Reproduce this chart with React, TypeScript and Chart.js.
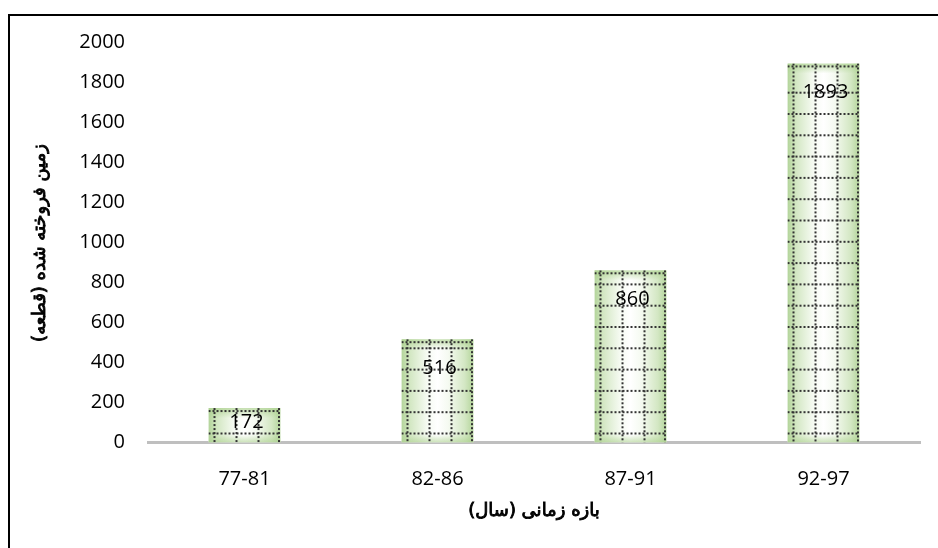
import React, { useEffect, useRef } from "react";
import { Chart, registerables } from "chart.js";

Chart.register(...registerables);

const categories: string[] = ["77-81", "82-86", "87-91", "92-97"];
const soldLand: number[] = [172, 516, 860, 1893];
const yTitle = "زمین فروخته شده (قطعه)";
const xTitle = "بازه زمانی (سال)";
const yMin = 0;
const yMax = 2000;
const yStep = 200;

const NUM_FONT = "'Open Sans', sans-serif";
const AR_FONT = "'DejaVu Sans', sans-serif";

const barDecor = {
  id: "barDecor",
  afterDatasetsDraw(chart: any) {
    const ctx = chart.ctx as CanvasRenderingContext2D;
    const meta = chart.getDatasetMeta(0);
    meta.data.forEach((el: any, i: number) => {
      const p = el.getProps(["x", "y", "base", "width"], true);
      const left = p.x - p.width / 2;
      const right = p.x + p.width / 2;
      const top = p.y;
      const base = p.base;
      ctx.save();
      ctx.beginPath();
      ctx.rect(left, top, right - left, base - top);
      ctx.clip();
      const g = ctx.createLinearGradient(left, 0, right, 0);
      g.addColorStop(0, "#b3d49a");
      g.addColorStop(0.12, "#d3e7c3");
      g.addColorStop(0.35, "#f5faf1");
      g.addColorStop(0.5, "#ffffff");
      g.addColorStop(0.65, "#f5faf1");
      g.addColorStop(0.88, "#d3e7c3");
      g.addColorStop(1, "#b3d49a");
      ctx.fillStyle = g;
      ctx.fillRect(left, top, right - left, base - top);
      const gt = ctx.createLinearGradient(0, top, 0, top + 10);
      gt.addColorStop(0, "rgba(170,208,140,0.7)");
      gt.addColorStop(1, "rgba(170,208,140,0)");
      ctx.fillStyle = gt;
      ctx.fillRect(left, top, right - left, 10);
      const gb = ctx.createLinearGradient(0, base, 0, base - 8);
      gb.addColorStop(0, "rgba(170,208,140,0.6)");
      gb.addColorStop(1, "rgba(170,208,140,0)");
      ctx.fillStyle = gb;
      ctx.fillRect(left, base - 8, right - left, 8);

      ctx.strokeStyle = "#333333";
      ctx.lineWidth = 2;
      ctx.setLineDash([2, 2]);
      const xs = [left + 6, left + 28, left + 50, right - 1.5];
      xs.forEach((x) => {
        ctx.beginPath();
        ctx.moveTo(x, top);
        ctx.lineTo(x, base);
        ctx.stroke();
      });
      const ys: number[] = [top + 3];
      for (let yy = base - 9; yy > top + 8; yy -= 21.3) ys.push(yy);
      ys.forEach((y) => {
        ctx.beginPath();
        ctx.moveTo(left, y);
        ctx.lineTo(right, y);
        ctx.stroke();
      });
      ctx.restore();

      ctx.save();
      ctx.fillStyle = "#000";
      ctx.font = `20px ${NUM_FONT}`;
      ctx.textAlign = "center";
      ctx.textBaseline = "middle";
      const cy = top + Math.min(29, (base - top) * 0.4);
      ctx.fillText(String(soldLand[i]), p.x + 2, cy);
      ctx.restore();
    });
  },
};

function boldText(ctx: CanvasRenderingContext2D, text: string, x: number, y: number) {
  ctx.fillText(text, x, y);
  ctx.strokeText(text, x, y);
}

const titles = {
  id: "titles",
  afterDraw(chart: any) {
    const ctx = chart.ctx as CanvasRenderingContext2D;
    const area = chart.chartArea;
    ctx.save();
    ctx.fillStyle = "#000";
    ctx.strokeStyle = "#000";
    ctx.lineWidth = 0.9;
    ctx.font = `18px ${AR_FONT}`;
    ctx.textAlign = "center";
    ctx.textBaseline = "middle";
    (ctx as any).direction = "rtl";
    boldText(ctx, xTitle, (area.left + area.right) / 2, 511);
    ctx.translate(40, 243);
    ctx.rotate(-Math.PI / 2);
    boldText(ctx, yTitle, 0, 0);
    ctx.restore();
  },
};

export default function App() {
  const ref = useRef<HTMLCanvasElement | null>(null);
  useEffect(() => {
    if (!ref.current) return;
    const chart = new Chart(ref.current, {
      type: "bar",
      data: {
        labels: categories,
        datasets: [
          {
            data: soldLand,
            backgroundColor: "#e2efda",
            borderWidth: 0,
            barPercentage: 0.373,
            categoryPercentage: 1,
          },
        ],
      },
      options: {
        animation: false,
        responsive: false,
        maintainAspectRatio: false,
        layout: { padding: { left: 0, right: 18, top: 42, bottom: 0 } },
        plugins: {
          legend: { display: false },
          tooltip: { enabled: false },
        },
        scales: {
          x: {
            grid: { display: false, drawTicks: false },
            border: { display: true, color: "#bfbfbf", width: 3 },
            ticks: {
              color: "#000",
              font: { family: NUM_FONT, size: 20 },
              padding: 25,
              maxRotation: 0,
            },
            afterFit: (s: any) => {
              s.height = 105.5;
            },
          },
          y: {
            min: yMin,
            max: yMax,
            grid: { display: false, drawTicks: false },
            border: { display: false },
            ticks: {
              stepSize: yStep,
              color: "#000",
              font: { family: NUM_FONT, size: 20 },
              padding: 23,
              callback: (v: any) => String(v),
            },
            afterFit: (s: any) => {
              s.width = 148;
            },
          },
        },
      },
      plugins: [barDecor, titles],
    });
    return () => chart.destroy();
  }, []);

  return (
    <div
      style={{
        position: "fixed",
        left: 0,
        top: 0,
        width: 938,
        height: 548,
        overflow: "hidden",
        background: "#fff",
      }}
    >
      <div
        style={{
          position: "absolute",
          left: 8,
          top: 14,
          width: 1000,
          height: 600,
          border: "2px solid #000",
        }}
      />
      <canvas
        ref={ref}
        width={938}
        height={548}
        style={{ position: "absolute", left: 0, top: 0, width: 938, height: 548 }}
      />
    </div>
  );
}
